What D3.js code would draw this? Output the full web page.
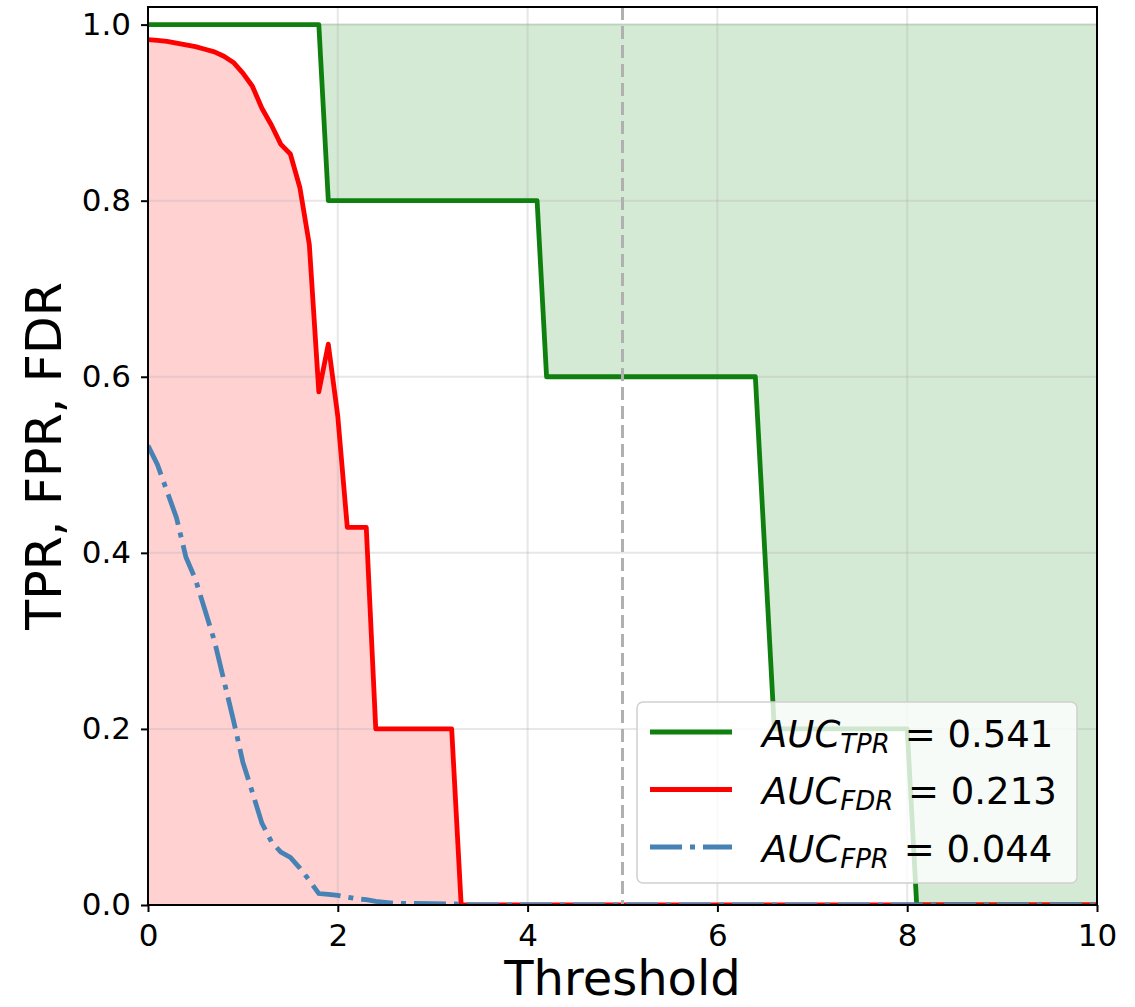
<!DOCTYPE html>
<html>
<head>
<meta charset="utf-8">
<script src="https://cdn.jsdelivr.net/npm/d3@7"></script>
<style>
  body { margin: 0; background: #fff; }
  svg { display: block; font-family: "DejaVu Sans", sans-serif; }
</style>
</head>
<body>
<svg id="chart"></svg>
<script>
window.onload = function(){
    makeChart();
};

const WIDTH = 1135;
const HEIGHT = 1007;

// curves, [threshold, rate]
const tprPoints = [[0, 1], [1.8, 1], [1.9, 0.8], [4.1, 0.8], [4.2, 0.6], [6.4, 0.6],
    [6.6, 0.2], [8.0, 0.2], [8.1, 0], [10, 0]];

const fdrPoints = [[0, 0.983], [0.1, 0.982], [0.2, 0.981], [0.3, 0.979], [0.4, 0.977],
    [0.5, 0.975], [0.6, 0.972], [0.7, 0.969], [0.8, 0.964], [0.9, 0.957], [1.0, 0.945],
    [1.1, 0.93], [1.2, 0.905], [1.3, 0.886], [1.4, 0.864], [1.5, 0.853], [1.6, 0.815],
    [1.7, 0.75], [1.8, 0.583], [1.9, 0.637], [2.0, 0.555], [2.1, 0.429], [2.3, 0.429],
    [2.4, 0.2], [3.2, 0.2], [3.3, 0], [10, 0]];

const fprPoints = [[0, 0.522], [0.1, 0.50], [0.2, 0.47], [0.3, 0.44], [0.4, 0.395],
    [0.5, 0.37], [0.6, 0.335], [0.7, 0.30], [0.8, 0.255], [0.9, 0.21], [1.0, 0.162],
    [1.1, 0.128], [1.2, 0.093], [1.3, 0.072], [1.4, 0.06], [1.5, 0.054], [1.6, 0.042],
    [1.7, 0.028], [1.8, 0.013], [1.9, 0.012], [2.0, 0.011], [2.1, 0.009], [2.2, 0.007],
    [2.3, 0.006], [2.4, 0.004], [2.5, 0.003], [2.6, 0.002], [3.3, 0.001], [3.4, 0], [10, 0]];

const cutoff = 5;

const legendNames = ['TPR', 'FDR', 'FPR'];
const aucValues = ['0.541', '0.213', '0.044'];

const xTicks = [0, 2, 4, 6, 8, 10];
const yTicks = [0, 0.2, 0.4, 0.6, 0.8, 1.0];

function makeChart(){
    const left = 148, right = 1097, top = 7, bottom = 905;

    let svg = d3.select('#chart')
        .attr('width', WIDTH)
        .attr('height', HEIGHT);

    const x = d3.scaleLinear().domain([0, 10]).range([left, right]);
    const y = d3.scaleLinear().domain([0, 1.02]).range([bottom, top]);

    svg.append('clipPath').attr('id', 'plotclip')
        .append('rect')
        .attr('x', left).attr('y', top)
        .attr('width', right - left).attr('height', bottom - top);

    const plot = svg.append('g').attr('clip-path', 'url(#plotclip)');

    const line = d3.line().x(d => x(d[0])).y(d => y(d[1]));

    // shaded areas
    plot.append('path')
        .datum(fdrPoints)
        .attr('d', d3.area().x(d => x(d[0])).y0(y(0)).y1(d => y(d[1])))
        .attr('fill', 'rgba(255,0,0,0.18)')
        .attr('stroke', 'rgba(255,0,0,0.18)')
        .attr('stroke-width', 1.5);

    plot.append('path')
        .datum(tprPoints)
        .attr('d', d3.area().x(d => x(d[0])).y0(y(1)).y1(d => y(d[1])))
        .attr('fill', 'rgba(0,128,0,0.17)')
        .attr('stroke', 'rgba(0,128,0,0.17)')
        .attr('stroke-width', 1.5);

    // grid (drawn above fills, like matplotlib)
    plot.append('g')
        .selectAll('line.vgrid')
        .data(xTicks)
        .enter()
        .append('line')
        .attr('x1', d => x(d)).attr('x2', d => x(d))
        .attr('y1', top).attr('y2', bottom)
        .attr('stroke', '#b0b0b0').attr('stroke-opacity', 0.3).attr('stroke-width', 2);

    plot.append('g')
        .selectAll('line.hgrid')
        .data(yTicks)
        .enter()
        .append('line')
        .attr('x1', left).attr('x2', right)
        .attr('y1', d => y(d)).attr('y2', d => y(d))
        .attr('stroke', '#b0b0b0').attr('stroke-opacity', 0.3).attr('stroke-width', 2);

    // curves
    plot.append('path')
        .datum(tprPoints)
        .attr('d', line)
        .attr('fill', 'none')
        .attr('stroke', '#0f800f')
        .attr('stroke-width', 4.8)
        .attr('stroke-linejoin', 'round');

    plot.append('path')
        .datum(fdrPoints)
        .attr('d', line)
        .attr('fill', 'none')
        .attr('stroke', '#ff0000')
        .attr('stroke-width', 4.8)
        .attr('stroke-linejoin', 'round');

    plot.append('path')
        .datum(fprPoints)
        .attr('d', line)
        .attr('fill', 'none')
        .attr('stroke', 'steelblue')
        .attr('stroke-width', 4.8)
        .attr('stroke-dasharray', '32,8,5,8');

    plot.append('line')
        .attr('x1', x(cutoff)).attr('x2', x(cutoff))
        .attr('y1', top).attr('y2', bottom)
        .attr('stroke', '#b0b0b0')
        .attr('stroke-width', 3)
        .attr('stroke-dasharray', '13,6');

    // axes
    const xAxis = d3.axisBottom(x).tickValues(xTicks).tickSize(7).tickPadding(10)
        .tickFormat(d3.format('d'));
    const yAxis = d3.axisLeft(y).tickValues(yTicks).tickSize(7).tickPadding(10)
        .tickFormat(d3.format('.1f'));

    let gx = svg.append('g')
        .attr('transform', 'translate(0,' + bottom + ')')
        .call(xAxis);
    let gy = svg.append('g')
        .attr('transform', 'translate(' + left + ',0)')
        .call(yAxis);

    [gx, gy].forEach(g => {
        g.select('.domain').remove();
        g.selectAll('.tick line').attr('stroke', '#000').attr('stroke-width', 2);
        g.selectAll('.tick text')
            .attr('fill', '#000')
            .style('font-family', '"DejaVu Sans", sans-serif')
            .style('font-size', '31px');
    });
    gx.selectAll('.tick text').attr('dy', '0.78em');

    svg.append('rect')
        .attr('x', left).attr('y', top)
        .attr('width', right - left).attr('height', bottom - top)
        .attr('fill', 'none')
        .attr('stroke', '#000')
        .attr('stroke-width', 2);

    // axis labels
    svg.append('text')
        .attr('x', (left + right) / 2)
        .attr('y', 995)
        .attr('text-anchor', 'middle')
        .style('font-size', '48px')
        .text('Threshold');

    svg.append('text')
        .attr('transform', 'translate(61,' + ((top + bottom) / 2) + ') rotate(-90)')
        .attr('text-anchor', 'middle')
        .style('font-size', '49px')
        .text('TPR, FPR, FDR');

    // legend
    const legend = svg.append('g');
    legend.append('rect')
        .attr('x', 637).attr('y', 702)
        .attr('width', 440).attr('height', 181)
        .attr('rx', 6)
        .attr('fill', 'rgba(255,255,255,0.8)')
        .attr('stroke', '#d0d0d0')
        .attr('stroke-width', 1.5);

    const legendColors = ['#0f800f', '#ff0000', 'steelblue'];
    const legendDash = [null, null, '32,8,5,8'];
    const rowY = d3.scalePoint().domain(legendNames).range([732, 847]);

    legendNames.forEach((name, i) => {
        legend.append('line')
            .attr('x1', 650).attr('x2', 732)
            .attr('y1', rowY(name)).attr('y2', rowY(name))
            .attr('stroke', legendColors[i])
            .attr('stroke-width', 4.8)
            .attr('stroke-dasharray', legendDash[i]);

        let t = legend.append('text')
            .attr('x', 762)
            .attr('y', rowY(name) + 14.5)
            .style('font-size', '37px');
        t.append('tspan').style('font-style', 'italic').text('AUC');
        t.append('tspan')
            .style('font-style', 'italic')
            .style('font-size', '26px')
            .attr('dy', 6)
            .text(name);
        t.append('tspan')
            .attr('dy', -6)
            .attr('dx', 3)
            .text(' = ' + aucValues[i]);
    });
}
</script>
</body>
</html>
